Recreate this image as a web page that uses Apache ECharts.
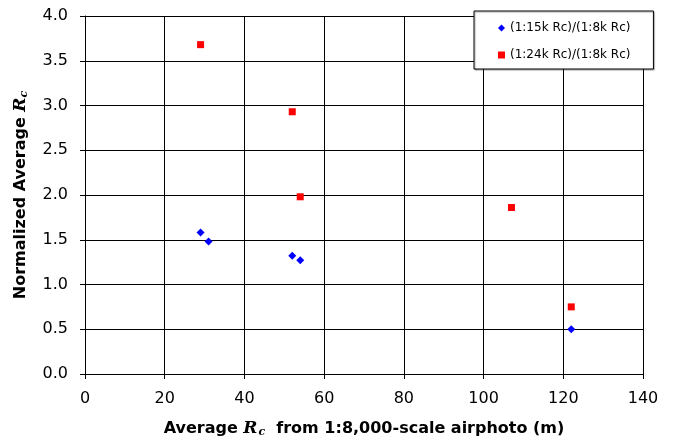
<!DOCTYPE html>
<html><head><meta charset="utf-8">
<script src="https://cdn.jsdelivr.net/npm/echarts@6/dist/echarts.min.js"></script>
<style>html,body{margin:0;padding:0;background:#fff}#c{width:673px;height:441px}</style>
</head><body><div id="c"></div>
<script>
const xTicks = [0, 20, 40, 60, 80, 100, 120, 140];
const yTicks = [0, 0.5, 1, 1.5, 2, 2.5, 3, 3.5, 4];
const series15kName = '(1:15k Rc)/(1:8k Rc)';
const series15kX = [29, 31, 52, 54, 122];
const series15kY = [1.58, 1.48, 1.32, 1.27, 0.50];
const series24kName = '(1:24k Rc)/(1:8k Rc)';
const series24kX = [29, 52, 54, 107, 122];
const series24kY = [3.68, 2.93, 1.98, 1.86, 0.75];

const zip = (xs, ys) => xs.map((x, i) => [x, ys[i]]);
const font = 'DejaVu Sans, Liberation Sans, Arial, sans-serif';
const serif = 'DejaVu Serif, Liberation Serif, Times New Roman, serif';
const chart = echarts.init(document.getElementById('c'), null, {renderer: 'canvas'});
chart.setOption({
  animation: false,
  backgroundColor: '#fff',
  grid: {left: 85, right: 30, top: 16, bottom: 67, containLabel: false, outerBoundsMode: 'none'},
  legend: {
    orient: 'vertical', left: 474, top: 11,
    backgroundColor: '#fff', borderColor: '#000', borderWidth: 1,
    padding: [11, 23, 8, 24], itemGap: 15, itemWidth: 7, itemHeight: 7,
    textStyle: {fontFamily: font, fontSize: 12, color: '#000'},
    shadowColor: 'rgba(0,0,0,0.35)', shadowOffsetX: 1, shadowOffsetY: 1, shadowBlur: 1,
    data: [{name: series15kName, icon: 'diamond'}, {name: series24kName, icon: 'rect'}]
  },
  xAxis: {
    type: 'value', min: xTicks[0], max: xTicks[xTicks.length - 1], interval: 20,
    axisLine: {show: true, onZero: false, lineStyle: {color: '#000', width: 1}},
    axisTick: {show: true, length: 5, lineStyle: {color: '#000'}},
    splitLine: {show: true, lineStyle: {color: '#000', width: 1}},
    axisLabel: {margin: 17, fontFamily: font, fontSize: 16, color: '#000'},
    name: '{a|Average }{r|R}{s|c}{a|  from 1:8,000-scale airphoto (m)}',
    nameLocation: 'middle', nameGap: 45,
    nameTextStyle: {
      rich: {
        a: {fontFamily: font, fontSize: 16, fontWeight: 'bold', color: '#000'},
        r: {fontFamily: serif, fontSize: 17, fontWeight: 'bold', fontStyle: 'italic', color: '#000'},
        s: {fontFamily: serif, fontSize: 11, fontWeight: 'bold', fontStyle: 'italic', color: '#000', verticalAlign: 'bottom', padding: [8, 0, 0, 1]}
      }
    }
  },
  yAxis: {
    type: 'value', min: yTicks[0], max: yTicks[yTicks.length - 1], interval: 0.5,
    axisLine: {show: true, lineStyle: {color: '#000', width: 1}},
    axisTick: {show: true, length: 5, lineStyle: {color: '#000'}},
    splitLine: {show: true, lineStyle: {color: '#000', width: 1}},
    axisLabel: {margin: 17, fontFamily: font, fontSize: 16, color: '#000', formatter: v => v.toFixed(1)},
    name: '{a|Normalized Average }{r|R}{s|c}',
    nameLocation: 'middle', nameGap: 55, nameRotate: 90,
    nameTextStyle: {
      rich: {
        a: {fontFamily: font, fontSize: 16, fontWeight: 'bold', color: '#000'},
        r: {fontFamily: serif, fontSize: 17, fontWeight: 'bold', fontStyle: 'italic', color: '#000'},
        s: {fontFamily: serif, fontSize: 11, fontWeight: 'bold', fontStyle: 'italic', color: '#000', verticalAlign: 'bottom', padding: [8, 0, 0, 0]}
      }
    }
  },
  series: [
    {name: series15kName, type: 'scatter', symbol: 'diamond', symbolSize: 8,
     itemStyle: {color: '#0000ff', opacity: 1}, data: zip(series15kX, series15kY)},
    {name: series24kName, type: 'scatter', symbol: 'rect', symbolSize: 7,
     itemStyle: {color: '#ff0000', opacity: 1}, data: zip(series24kX, series24kY)}
  ]
});
</script></body></html>
